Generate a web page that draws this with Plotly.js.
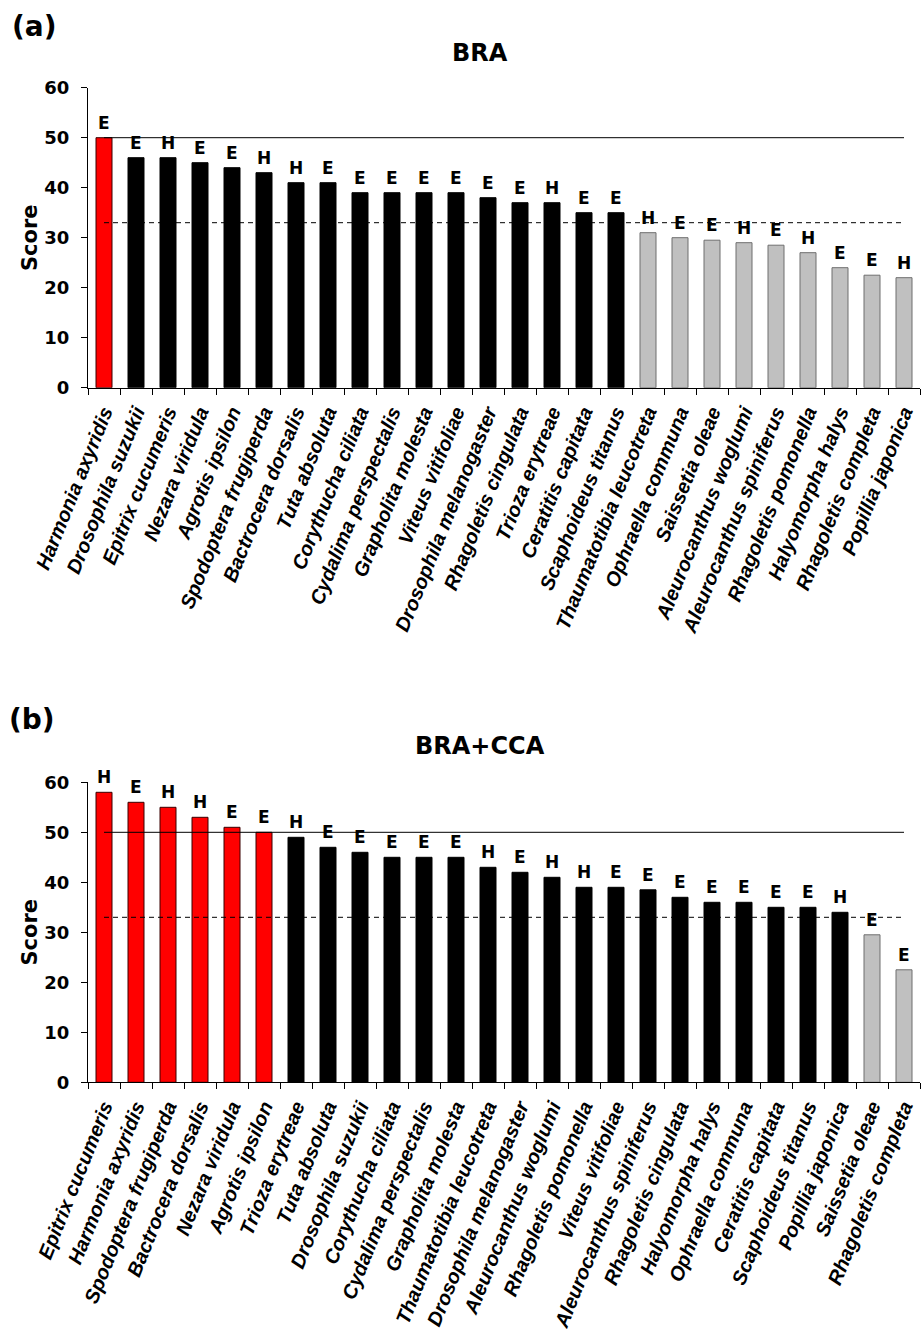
<!DOCTYPE html>
<html>
<head>
<meta charset="utf-8">
<script src="https://cdn.plot.ly/plotly-3.0.1.min.js"></script>
<style>html,body{margin:0;padding:0;background:#fff;}#chart{width:923px;height:1336px;}</style>
</head>
<body>
<div id="chart"></div>
<script>
// ---- Data: panel (a) BRA ----
const speciesA = ["Harmonia axyridis","Drosophila suzukii","Epitrix cucumeris","Nezara viridula","Agrotis ipsilon","Spodoptera frugiperda","Bactrocera dorsalis","Tuta absoluta","Corythucha ciliata","Cydalima perspectalis","Grapholita molesta","Viteus vitifoliae","Drosophila melanogaster","Rhagoletis cingulata","Trioza erytreae","Ceratitis capitata","Scaphoideus titanus","Thaumatotibia leucotreta","Ophraella communa","Saissetia oleae","Aleurocanthus woglumi","Aleurocanthus spiniferus","Rhagoletis pomonella","Halyomorpha halys","Rhagoletis completa","Popillia japonica"];
const scoresA = [50,46,46,45,44,43,41,41,39,39,39,39,38,37,37,35,35,31,30,29.5,29,28.5,27,24,22.5,22];
const typeA = ["E","E","H","E","E","H","H","E","E","E","E","E","E","E","H","E","E","H","E","E","H","E","H","E","E","H"];

// ---- Data: panel (b) BRA+CCA ----
const speciesB = ["Epitrix cucumeris","Harmonia axyridis","Spodoptera frugiperda","Bactrocera dorsalis","Nezara viridula","Agrotis ipsilon","Trioza erytreae","Tuta absoluta","Drosophila suzukii","Corythucha ciliata","Cydalima perspectalis","Grapholita molesta","Thaumatotibia leucotreta","Drosophila melanogaster","Aleurocanthus woglumi","Rhagoletis pomonella","Viteus vitifoliae","Aleurocanthus spiniferus","Rhagoletis cingulata","Halyomorpha halys","Ophraella communa","Ceratitis capitata","Scaphoideus titanus","Popillia japonica","Saissetia oleae","Rhagoletis completa"];
const scoresB = [58,56,55,53,51,50,49,47,46,45,45,45,43,42,41,39,39,38.5,37,36,36,35,35,34,29.5,22.5];
const typeB = ["H","E","H","H","E","E","H","E","E","E","E","E","H","E","H","H","E","E","E","E","E","E","E","H","E","E"];

// thresholds
const upperThreshold = 50;
const lowerThreshold = 33;

const FONT = "Liberation Sans, Arial, sans-serif";
const WIDE = "DejaVu Sans, Liberation Sans, sans-serif";

function fillColor(v){ return v >= upperThreshold ? "#ff0000" : (v > lowerThreshold ? "#000000" : "#c0c0c0"); }
function lineColor(v){ return v >= upperThreshold ? "#3a0000" : (v > lowerThreshold ? "#000000" : "#6e6e6e"); }

function barTrace(cats, vals, xa, ya){
  return {
    type: "bar", x: cats, y: vals, xaxis: xa, yaxis: ya,
    marker: { color: vals.map(fillColor), line: { color: vals.map(lineColor), width: 1 } },
    hoverinfo: "x+y", showlegend: false
  };
}

function letterAnnots(cats, vals, types, xr, yr){
  return cats.map((c, i) => ({
    x: c, y: vals[i], xref: xr, yref: yr, text: types[i], showarrow: false,
    xanchor: "center", yanchor: "bottom", yshift: 3,
    font: { family: WIDE, size: 17, color: "#000", weight: "bold" }
  }));
}

function hlines(cats, xr, yr){
  const a = cats[0], b = cats[cats.length - 1];
  return [
    { type: "line", xref: xr, yref: yr, x0: a, x1: b, y0: upperThreshold, y1: upperThreshold, layer: "above", line: { color: "#000", width: 1 } },
    { type: "line", xref: xr, yref: yr, x0: a, x1: b, y0: lowerThreshold, y1: lowerThreshold, layer: "above", line: { color: "#000", width: 1, dash: "5px,4px" } }
  ];
}

const H = 1336;
function frac(px){ return (H - px) / H; }

const xCommon = {
  type: "category", showline: true, linecolor: "#000", linewidth: 1,
  ticks: "outside", ticklen: 6, tickcolor: "#000", tickson: "boundaries",
  tickangle: -68, showgrid: false, zeroline: false, automargin: false,
  ticklabelstandoff: 4,
  tickfont: { family: FONT, size: 20, color: "#000", weight: "bold", style: "italic" }
};
const yCommon = {
  range: [0, 60], dtick: 10, showline: true, linecolor: "#000", linewidth: 1,
  ticks: "outside", ticklen: 6, tickcolor: "#000", showgrid: false, zeroline: false,
  automargin: false, ticklabelstandoff: 8,
  tickfont: { family: WIDE, size: 18, color: "#000", weight: "bold" },
  title: { text: "Score", font: { family: WIDE, size: 21, color: "#000", weight: "bold" }, standoff: 0 }
};

const layout = {
  width: 923, height: 1336,
  margin: { l: 88, r: 3, t: 0, b: 0 },
  paper_bgcolor: "#fff", plot_bgcolor: "#fff",
  bargap: 0.5, showlegend: false,
  xaxis: Object.assign({}, xCommon, { domain: [0, 1], anchor: "y" }),
  yaxis: Object.assign({}, yCommon, { domain: [frac(387.7), frac(87.7)], anchor: "x" }),
  xaxis2: Object.assign({}, xCommon, { domain: [0, 1], anchor: "y2" }),
  yaxis2: Object.assign({}, yCommon, { domain: [frac(1082.3), frac(782.3)], anchor: "x2" }),
  shapes: hlines(speciesA, "x", "y").concat(hlines(speciesB, "x2", "y2")),
  annotations: letterAnnots(speciesA, scoresA, typeA, "x", "y")
    .concat(letterAnnots(speciesB, scoresB, typeB, "x2", "y2"))
    .concat([
      { text: "BRA", xref: "paper", yref: "paper", x: (480 - 88) / 832, y: frac(52.5), xanchor: "center", yanchor: "middle", showarrow: false,
        font: { family: WIDE, size: 24, color: "#000", weight: "bold" } },
      { text: "BRA+CCA", xref: "paper", yref: "paper", x: (480 - 88) / 832, y: frac(746), xanchor: "center", yanchor: "middle", showarrow: false,
        font: { family: WIDE, size: 24, color: "#000", weight: "bold" } },
      { text: "(a)", xref: "paper", yref: "paper", x: (10 - 88) / 832, y: frac(26), xanchor: "left", yanchor: "middle", showarrow: false,
        font: { family: WIDE, size: 28, color: "#000", weight: "bold" } },
      { text: "(b)", xref: "paper", yref: "paper", x: (7 - 88) / 832, y: frac(719), xanchor: "left", yanchor: "middle", showarrow: false,
        font: { family: WIDE, size: 28, color: "#000", weight: "bold" } }
    ])
};

Plotly.newPlot("chart", [barTrace(speciesA, scoresA, "x", "y"), barTrace(speciesB, scoresB, "x2", "y2")], layout, { displayModeBar: false, staticPlot: true });
</script>
</body>
</html>
